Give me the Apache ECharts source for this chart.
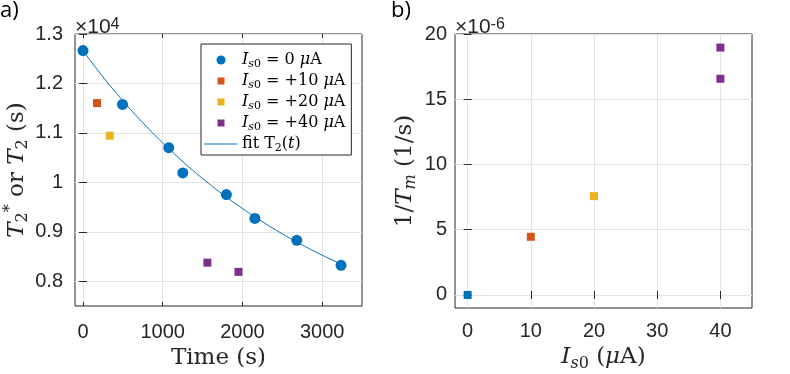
<!DOCTYPE html>
<html>
<head>
<meta charset="utf-8">
<script src="https://cdn.jsdelivr.net/npm/echarts@6/dist/echarts.min.js"></script>
<style>
html, body { margin: 0; padding: 0; background: #fff; }
#main { width: 790px; height: 374px; }
</style>
</head>
<body>
<div id="main"></div>
<script>
// panel a) T2 vs time, seconds
var t_0 = [0, 496, 1076, 1252, 1799, 2156, 2682, 3237];
var T2_0 = [12664, 11575, 10702, 10191, 9754, 9270, 8827, 8323];
var t_10 = [177];
var T2_10 = [11603];
var t_20 = [336];
var T2_20 = [10944];
var t_40 = [1560, 1950];
var T2_40 = [8376, 8190];
// fit curve
var fitT = [0, 250, 500, 750, 1000, 1250, 1500, 1750, 2000, 2250, 2500, 2750, 3000, 3230];
var fitT2 = [12663, 12135, 11651, 11207, 10798, 10423, 10078, 9762, 9472, 9205, 8960, 8735, 8528, 8355];

// panel b) 1/Tm vs Is0, in units of 1e-6 1/s
var current = [0, 10, 20, 40, 40];
var invTm = [0, 4.46, 7.57, 18.96, 16.57];

// tick labels
var ticksTime = [0, 1000, 2000, 3000];
var ticksT2 = [8000, 9000, 10000, 11000, 12000, 13000];
var ticksCurrent = [0, 10, 20, 30, 40];
var ticksInvTm = [0, 5, 10, 15, 20];

var blue = '#0072BD', orange = '#D95319', yellow = '#EDB120', purple = '#7E2F8E';
var colorsB = [blue, orange, yellow, purple, purple];
var axisCol = '#262626';
var gridCol = '#e3e3e3';

function zip(a, b) {
  return a.map(function (v, i) { return [v, b[i]]; });
}

var serif = 'DejaVu Serif';
var labelFont = 'Liberation Sans';

var mathRich = {
  rm: { fontFamily: serif, fontSize: 23, lineHeight: 28, color: axisCol },
  it: { fontFamily: serif, fontStyle: 'italic', fontSize: 23, lineHeight: 28, color: axisCol },
  sub: { fontFamily: serif, fontSize: 16, lineHeight: 16, verticalAlign: 'bottom', color: axisCol },
  subi: { fontFamily: serif, fontStyle: 'italic', fontSize: 16, lineHeight: 16, verticalAlign: 'bottom', color: axisCol },
  sup: { fontFamily: serif, fontSize: 16, lineHeight: 16, verticalAlign: 'top', color: axisCol }
};

var legendRich = {
  rm: { fontFamily: serif, fontSize: 16, lineHeight: 20, color: '#000' },
  it: { fontFamily: serif, fontStyle: 'italic', fontSize: 16, lineHeight: 20, color: '#000' },
  sub: { fontFamily: serif, fontSize: 11, lineHeight: 11, verticalAlign: 'bottom', color: '#000' },
  subi: { fontFamily: serif, fontStyle: 'italic', fontSize: 11, lineHeight: 11, verticalAlign: 'bottom', color: '#000' }
};

// exponent label above each y axis
var expRich = {
  m: { fontFamily: labelFont, fontSize: 21, lineHeight: 20, color: axisCol },
  s: { fontFamily: labelFont, fontSize: 16, lineHeight: 12, verticalAlign: 'top', color: axisCol }
};

var legendText = {
  'I0': '{it|I}{subi|s}{sub|0}{rm| = 0 }{it|μ}{rm|A}',
  'I10': '{it|I}{subi|s}{sub|0}{rm| = +10 }{it|μ}{rm|A}',
  'I20': '{it|I}{subi|s}{sub|0}{rm| = +20 }{it|μ}{rm|A}',
  'I40': '{it|I}{subi|s}{sub|0}{rm| = +40 }{it|μ}{rm|A}',
  'fit': '{rm|fit T}{sub|2}{rm|(}{it|t}{rm|)}'
};

// legend icons: the leading moves pin the box to itemWidth x itemHeight
var iconCircle = 'path://M0,0M33,9M12.5,4.5a4.5,4.5 0 1,0 9,0a4.5,4.5 0 1,0 -9,0z';
var iconSquare = 'path://M0,0M33,9M13.5,1h7v7h-7z';
var iconLine = 'path://M0,0M33,9M0,4h33v1h-33z';

function tickLabel(list, scale) {
  return function (v) {
    return list.indexOf(v) >= 0 ? String(+(v / scale).toFixed(6)) : '';
  };
}

function mainAxis(ticks, extra) {
  var ax = {
    type: 'value',
    axisLine: { show: false },
    axisTick: { inside: true, length: 4, customValues: ticks, lineStyle: { color: axisCol } },
    splitLine: { show: true, lineStyle: { color: gridCol, width: 1 } },
    showMinLabel: false,
    nameLocation: 'middle',
    nameTextStyle: { rich: mathRich }
  };
  for (var k in extra) ax[k] = extra[k];
  ax.axisLabel.customValues = ticks;
  return ax;
}

function mirrorAxis(ticks, extra) {
  var ax = {
    type: 'value',
    axisLine: { show: false },
    axisTick: { inside: true, length: 4, customValues: ticks, lineStyle: { color: axisCol } },
    axisLabel: { show: false },
    splitLine: { show: false }
  };
  for (var k in extra) ax[k] = extra[k];
  return ax;
}

function expAxis(gridIndex, min, max, text) {
  return {
    type: 'value', gridIndex: gridIndex, position: 'left', min: min, max: max,
    axisLine: { show: false }, axisTick: { show: false },
    axisLabel: { show: false }, splitLine: { show: false },
    name: text, nameLocation: 'end', nameGap: -3,
    nameTextStyle: { align: 'left', fontFamily: labelFont, fontSize: 21, color: axisCol, rich: expRich }
  };
}

var myChart = echarts.init(document.getElementById('main'));

var option = {
  animation: false,
  backgroundColor: '#fff',
  graphic: [
    { type: 'text', left: 0, top: 0, silent: true,
      style: { text: 'a)', font: '22px "Open Sans"', fill: '#000' } },
    { type: 'text', left: 391, top: 0, silent: true,
      style: { text: 'b)', font: '22px "Open Sans"', fill: '#000' } }
  ],
  grid: [
    { left: 75, top: 34, width: 287, height: 272, outerBoundsMode: 'none', containLabel: false,
      show: true, borderColor: axisCol, borderWidth: 1, backgroundColor: '#fff' },
    { left: 455, top: 34, width: 297, height: 274, outerBoundsMode: 'none', containLabel: false,
      show: true, borderColor: axisCol, borderWidth: 1, backgroundColor: '#fff' }
  ],
  legend: {
    left: 201,
    top: 44,
    orient: 'vertical',
    data: [
      { name: 'I0', icon: iconCircle, itemStyle: { borderWidth: 0 } },
      { name: 'I10', icon: iconSquare, itemStyle: { borderWidth: 0 } },
      { name: 'I20', icon: iconSquare, itemStyle: { borderWidth: 0 } },
      { name: 'I40', icon: iconSquare, itemStyle: { borderWidth: 0 } },
      { name: 'fit', icon: iconLine, itemStyle: { borderWidth: 0 } }
    ],
    itemWidth: 33,
    itemHeight: 9,
    itemGap: 3,
    padding: [8, 6, 1, 3],
    backgroundColor: '#fff',
    borderColor: axisCol,
    borderWidth: 1,
    selectedMode: false,
    formatter: function (name) { return legendText[name]; },
    textStyle: { rich: legendRich }
  },
  xAxis: [
    mainAxis(ticksTime, { gridIndex: 0, min: -100, max: 3500, showMaxLabel: false,
      axisLabel: { margin: 16, formatter: tickLabel(ticksTime, 1), fontFamily: labelFont, fontSize: 20, color: axisCol },
      name: '{rm|Time (s)}', nameGap: 37 }),
    mainAxis(ticksCurrent, { gridIndex: 1, min: -2, max: 45, showMaxLabel: false,
      axisLabel: { margin: 13, formatter: tickLabel(ticksCurrent, 1), fontFamily: labelFont, fontSize: 20, color: axisCol },
      name: '{it|I}{subi|s}{sub|0}{rm| (}{it|μ}{rm|A)}', nameGap: 35 }),
    mirrorAxis(ticksTime, { gridIndex: 0, position: 'top', min: -100, max: 3500 }),
    mirrorAxis(ticksCurrent, { gridIndex: 1, position: 'top', min: -2, max: 45 })
  ],
  yAxis: [
    mainAxis(ticksT2, { gridIndex: 0, min: 7500, max: 13000,
      axisLabel: { margin: 12, formatter: tickLabel(ticksT2, 1e4), fontFamily: labelFont, fontSize: 20, color: axisCol },
      name: '{it|T}{sub|2}{sup|*}{rm| or }{it|T}{sub|2}{rm| (s)}', nameGap: 44 }),
    mainAxis(ticksInvTm, { gridIndex: 1, min: -1, max: 20,
      axisLabel: { margin: 8, formatter: tickLabel(ticksInvTm, 1), fontFamily: labelFont, fontSize: 20, color: axisCol },
      name: '{rm|1/}{it|T}{subi|m}{rm| (1/s)}', nameGap: 36 }),
    mirrorAxis(ticksT2, { gridIndex: 0, position: 'right', min: 7500, max: 13000 }),
    mirrorAxis(ticksInvTm, { gridIndex: 1, position: 'right', min: -1, max: 20 }),
    expAxis(0, 7500, 13000, '{m|×10}{s|4}'),
    expAxis(1, -1, 20, '{m|×10}{s|-6}')
  ],
  series: [
    { name: 'fit', type: 'line', xAxisIndex: 0, yAxisIndex: 0, data: zip(fitT, fitT2),
      smooth: true, symbol: 'none', z: 2, lineStyle: { color: blue, width: 1 }, itemStyle: { color: blue } },
    { name: 'I0', type: 'scatter', xAxisIndex: 0, yAxisIndex: 0, data: zip(t_0, T2_0),
      symbol: 'circle', symbolSize: 11, z: 3, itemStyle: { color: blue, opacity: 1 } },
    { name: 'I10', type: 'scatter', xAxisIndex: 0, yAxisIndex: 0, data: zip(t_10, T2_10),
      symbol: 'rect', symbolSize: 8, z: 3, itemStyle: { color: orange, opacity: 1 } },
    { name: 'I20', type: 'scatter', xAxisIndex: 0, yAxisIndex: 0, data: zip(t_20, T2_20),
      symbol: 'rect', symbolSize: 8, z: 3, itemStyle: { color: yellow, opacity: 1 } },
    { name: 'I40', type: 'scatter', xAxisIndex: 0, yAxisIndex: 0, data: zip(t_40, T2_40),
      symbol: 'rect', symbolSize: 8, z: 3, itemStyle: { color: purple, opacity: 1 } },
    { name: 'b', type: 'scatter', xAxisIndex: 1, yAxisIndex: 1,
      data: current.map(function (c, i) {
        return { value: [c, invTm[i]], itemStyle: { color: colorsB[i], opacity: 1 } };
      }),
      symbol: 'rect', symbolSize: 8, z: 3 }
  ]
};

myChart.setOption(option);
</script>
</body>
</html>
